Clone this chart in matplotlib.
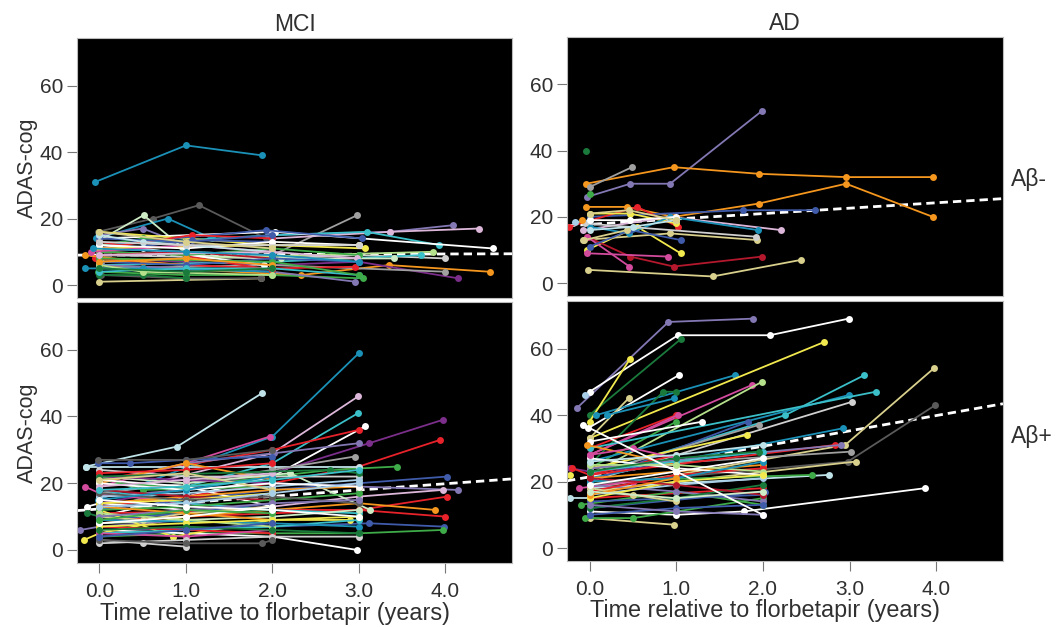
import matplotlib
matplotlib.use("Agg")
import matplotlib.pyplot as plt

plt.rcParams['font.family'] = ['Liberation Sans', 'DejaVu Sans']

# ---------------- palette ----------------
pal = {
    'teal': '#1B91B8', 'orange': '#F5961E', 'lav': '#8478B4', 'gray': '#A0A0A0',
    'dkgreen': '#1A7A3C', 'red': '#E8222A', 'dkred': '#B3182D', 'pink': '#D24B9D',
    'yellow': '#F2E94E', 'khaki': '#D8D08C', 'white': '#FFFFFF', 'ltblue': '#A9CFE8',
    'cyan': '#3BBFC8', 'green': '#3EAA48', 'ltgreen': '#B5E08C', 'purple': '#7B2E8A',
    'blue': '#3F5BAA', 'ltpink': '#DDB7DA', 'dkgray': '#5A5A5A', 'ltcyan': '#BFE3E8',
    'mint': '#CDEBC5', 'ltgray': '#D0D0D0',
}

# ---------------- MCI, Abeta- ----------------
mci_neg_t = [
    [-0.05, 1.0, 1.88], [-0.02, 0.62, 1.15, 1.93], [-0.04, 0.79, 1.3], [0.0, 0.51, 0.95],
    [0.0, 0.5, 1.0], [0.02, 2.0, 2.98], [1.95, 3.36, 4.09], [2.0, 3.36, 4.39],
    [0.0, 2.0, 3.09, 3.93], [0.0, 2.03, 4.55], [0.0, 2.33, 3.35, 4.51], [0.0, 1.0, 2.0, 3.0, 4.15],
    [0.0, 2.0, 4.0], [0.0, 2.0, 3.0, 4.0], [0.0, 1.0, 3.86], [0.0, 2.0, 3.72],
    [0.0, 2.1, 3.4], [0.0, 1.0, 2.0, 3.07], [-0.02, 1.0, 2.0, 3.05], [0.0, 1.0, 2.0, 2.96],
    [-0.05, 1.0, 2.0, 2.96], [0.0, 1.92, 3.04], [-0.17, 0.5, 1.0], [-0.17, 0.5, 2.0],
    [0.0, 1.87], [0.02, 1.0, 1.87], [0.0, 0.5, 1.0], [0.0, 0.5, 1.0],
    [0.0, 1.07, 2.0], [0.0, 1.07, 2.0], [0.0, 2.0], [0.0, 0.5, 1.9],
    [0.0, 1.0, 2.0], [0.0, 1.0, 2.0, 3.0], [0.0, 1.0, 2.0], [0.0, 1.0, 2.0, 3.0],
    [0.0, 2.0, 3.0], [0.0, 1.0, 2.0], [0.0, 1.0, 2.0, 3.0], [0.0, 0.5, 2.0],
    [-0.1, 1.0, 2.0], [0.0, 1.0, 2.0, 3.0], [0.0, 0.5, 1.0, 2.0], [0.0, 2.0, 3.0],
    [0.0, 1.0, 2.0], [0.0, 1.0, 3.0], [0.0, 2.0, 2.98], [0.0, 1.0, 2.0],
    [-0.08, 1.0, 2.0, 3.0], [0.0, 1.0, 2.0],
]
mci_neg_y = [
    [31, 42, 39], [16, 20, 24, 14], [14, 20, 14], [13.5, 21, 11.5],
    [15, 17, 12], [7, 9, 21], [15, 16, 18], [14, 16, 17],
    [12, 15, 16, 12], [14, 16, 11], [6, 3, 6, 4], [8, 7, 6, 7, 2],
    [5, 6, 4], [9, 8, 9, 8], [7, 8, 10], [6, 7, 9],
    [10, 8, 8], [16, 14, 12, 11], [4, 3, 3, 2], [6, 5, 4, 1],
    [8, 6, 5, 5.5], [12, 16.5, 14], [9, 7, 6], [5, 5, 4],
    [1, 2], [3, 2, 2], [12, 14, 13], [3, 3, 2],
    [11, 15, 14], [10, 13.5, 13], [13, 4.5], [12, 11, 6],
    [11, 10, 9], [10, 9, 11, 9], [9, 10, 8], [7, 6, 8, 7],
    [11, 12, 12], [14, 13, 15], [4, 5, 5, 3], [6, 4, 3],
    [10, 12, 10], [12, 11, 13, 12], [15, 13, 12, 10], [8, 7, 3],
    [7, 8, 6], [13, 12, 12], [9, 10, 8], [5, 4, 5],
    [11, 10, 9, 7], [16, 13, 11],
]
mci_neg_c = [
    'teal', 'dkgray', 'teal', 'mint', 'lav', 'gray', 'lav', 'ltpink',
    'cyan', 'white', 'orange', 'purple', 'gray', 'ltgray', 'ltgreen', 'cyan',
    'mint', 'yellow', 'green', 'lav', 'red', 'blue', 'orange', 'teal',
    'khaki', 'dkgray', 'green', 'dkgreen', 'red', 'blue', 'red', 'white',
    'ltblue', 'green', 'dkred', 'blue', 'yellow', 'blue', 'cyan', 'ltgreen',
    'pink', 'white', 'ltcyan', 'green', 'orange', 'ltgray', 'ltpink', 'dkgreen',
    'teal', 'khaki',
]
mci_neg_trend = [9.0, 9.4]

# ---------------- AD, Abeta- ----------------
ad_neg_t = [
    [-0.03, 0.47, 0.93, 1.99], [-0.04, 0.97, 1.95, 2.96, 3.96], [-0.04, 0.43, 0.97, 1.95, 2.96, 3.96],
    [0.0, 0.49], [-0.04], [0.0], [0.0, 1.77, 2.6], [-0.24, 0.55, 1.02],
    [0.0, 0.47, 1.0], [-0.03, 0.55, 1.05], [-0.08, 0.93, 1.93], [-0.02, 1.42, 2.44],
    [-0.03, 0.47, 0.97, 1.99], [-0.03, 0.91], [-0.03, 0.46], [-0.07, 0.93, 2.21],
    [0.0, 0.46, 0.93, 1.94], [-0.05, 1.92], [0.0, 0.47, 1.05], [-0.17, 0.0],
    [-0.09], [-0.06, 0.43], [0.0, 0.47, 1.0], [0.0, 0.5, 1.0], [0.0, 0.45, 1.0],
]
ad_neg_y = [
    [26, 30, 30, 52], [30, 35, 33, 32, 32], [23, 23, 20, 24, 30, 20],
    [29, 35], [40], [27], [20, 22, 22], [17, 23, 17],
    [21, 21, 18], [10, 17, 9], [13, 15, 13], [4, 2, 7],
    [14, 8, 5, 8], [9, 8], [14, 5], [16, 20, 16],
    [17, 15, 20, 16], [18, 14], [11, 16, 13], [18.3, 19],
    [19], [13, 16], [19, 19, 20], [16, 17, 19], [21, 22, 19],
]
ad_neg_c = [
    'lav', 'orange', 'orange', 'gray', 'dkgreen', 'green', 'blue', 'red',
    'yellow', 'yellow', 'khaki', 'khaki', 'dkred', 'pink', 'pink', 'ltpink',
    'teal', 'ltgray', 'blue', 'ltblue', 'orange', 'khaki', 'white', 'ltcyan', 'khaki',
]
ad_neg_trend = [17.3, 25.5]

# ---------------- MCI, Abeta+ ----------------
mci_pos_t = [
    [-0.16, 0.9, 1.88], [-0.02, 2.0, 3.0], [0.0, 2.0, 2.99], [0.0, 2.0, 2.99],
    [0.0, 2.0, 3.07], [0.0, 2.0, 3.0], [0.0, 2.0, 3.12, 3.97], [0.0, 1.0, 2.0, 3.0, 3.94],
    [0.0, 1.0, 2.67, 3.44], [-0.16, 1.0, 2.0, 3.0], [0.0, 2.0, 3.0, 4.02], [0.0, 2.0, 3.0, 4.14],
    [0.0, 2.0, 3.0, 3.97], [0.0, 2.0, 3.0, 4.02], [0.0, 1.0, 2.0, 3.0, 3.88], [0.0, 2.0, 3.0, 4.0],
    [0.0, 2.0, 3.12, 3.98], [0.0, 1.0, 2.0, 3.0, 3.97], [0.0, 1.0, 2.0, 2.98], [0.0, 1.0, 2.0, 2.95],
    [0.0, 1.0, 1.97], [0.0, 1.0, 2.02, 3.0], [0.0, 0.5, 1.0], [-0.18, 0.0, 1.0],
    [-0.17, 0.0, 1.0, 2.0], [-0.22, 0.0, 1.0], [-0.02, 0.35, 1.0, 2.0], [-0.02, 1.0, 2.0],
    [-0.14, 0.0, 1.0], [-0.14, 0.0, 1.0, 2.0], [0.0, 1.0, 2.0, 3.0], [0.0, 0.5, 2.0],
    [0.0, 1.0, 2.0], [0.0, 1.0, 2.0, 3.0], [0.0, 0.85, 2.0, 2.9], [0.0, 1.0, 2.0],
    [0.0, 1.0, 2.2, 3.13], [0.0, 1.0, 2.0, 3.0], [0.0, 1.0, 2.0], [0.0, 1.0, 2.0, 3.0],
    [0.0, 1.0, 2.0], [0.0, 1.0, 2.0, 3.0], [0.0, 1.0, 2.0], [0.0, 0.5, 1.0, 2.0],
    [0.0, 1.0, 2.0, 3.0], [0.0, 1.0, 2.0], [0.0, 1.0, 2.0, 3.0], [0.0, 1.0, 2.0],
    [0.0, 1.0, 2.0, 3.0], [0.0, 2.0, 3.0], [0.0, 1.0, 2.0], [0.0, 1.0, 2.0, 3.0],
    [0.0, 1.0, 2.0], [0.0, 1.0, 2.0], [0.0, 1.0, 2.0, 3.0], [0.0, 1.0, 2.0],
    [0.0, 1.0, 2.0, 3.0], [0.0, 1.0, 2.0], [0.0, 1.0, 2.0, 3.0], [0.0, 1.0, 2.0],
    [0.0, 1.0, 1.88, 2.0], [0.0, 2.66, 3.0], [0.0, 1.0, 2.0], [0.0, 1.0, 2.0, 3.0],
    [0.0, 1.0, 2.0], [0.0, 1.0, 2.0, 3.0], [0.0, 1.0, 2.0], [0.0, 1.0, 2.0, 3.0],
    [0.0, 1.0, 2.0], [0.0, 1.0, 2.0, 3.0],
]
mci_pos_y = [
    [25, 31, 47], [15, 34, 59], [16, 29, 46], [12, 26, 41],
    [10, 22, 37], [21, 30, 36], [14, 23, 32, 39], [13, 16, 20, 25, 33],
    [20, 19, 24, 25], [25, 25, 25, 25], [12, 18, 20, 22], [16, 20, 19, 18],
    [10, 13, 16, 18], [9, 11, 12, 16], [8, 10, 12, 14, 12], [11, 12, 12, 10],
    [6, 7, 8, 7], [4, 5, 5, 5, 6], [6, 5, 4, 0], [17, 20, 24, 28],
    [19, 26, 34], [20, 26, 29, 32], [3, 2, 1], [3, 5, 10],
    [19, 17, 14, 12], [6, 7, 9], [26, 26, 27, 28], [27, 27, 30],
    [13, 14, 12], [11, 10, 11, 12], [24, 22, 22, 22], [22, 18, 19],
    [20, 26, 21], [18, 14, 12, 11], [12, 4, 9, 9], [21, 19, 13],
    [22, 20, 23, 12], [5, 6, 7, 9], [9, 11, 14], [14, 16, 18, 19],
    [7, 6, 5], [16, 17, 19, 21], [22, 21, 20], [10, 9, 11, 13],
    [8, 9, 10, 12], [18, 16, 15], [12, 13, 15, 17], [14, 15, 17],
    [20, 18, 20, 19], [9, 8, 7], [5, 4, 6], [17, 15, 16, 14],
    [11, 9, 7], [23, 24, 26], [10, 12, 14, 15], [13, 11, 9],
    [7, 8, 9, 10], [15, 18, 22], [2, 3, 4, 4], [19, 21, 23],
    [3, 2, 2, 3], [22, 24, 23], [8, 10, 13], [6, 7, 6, 5],
    [21, 23, 18], [13, 14, 17, 20], [4, 6, 8], [18, 19, 21, 24],
    [9, 12, 11], [15, 13, 12, 10],
]
mci_pos_c = [
    'ltcyan', 'teal', 'ltpink', 'cyan', 'white', 'red', 'purple', 'red',
    'green', 'ltcyan', 'blue', 'lav', 'ltpink', 'red', 'orange', 'red',
    'blue', 'green', 'white', 'gray', 'pink', 'lav', 'ltgray', 'yellow',
    'pink', 'lav', 'blue', 'dkgray', 'white', 'dkgreen', 'ltgray', 'green',
    'orange', 'cyan', 'yellow', 'white', 'mint', 'cyan', 'blue', 'orange',
    'red', 'ltblue', 'purple', 'khaki', 'mint', 'dkred', 'green', 'yellow',
    'white', 'teal', 'pink', 'dkgray', 'ltgreen', 'red', 'lav', 'orange',
    'yellow', 'teal', 'ltgray', 'ltpink', 'dkgray', 'dkgreen', 'white', 'dkgreen',
    'khaki', 'ltblue', 'blue', 'cyan', 'green', 'white',
]
mci_pos_trend = [11.8, 21.3]

# ---------------- AD, Abeta+ ----------------
ad_pos_t = [
    [-0.15, 0.91, 1.89], [0.0, 1.02, 2.08, 2.99], [0.0, 1.06], [0.0, 0.47],
    [-0.05], [-0.02, 1.03], [0.08, 1.68], [0.0, 2.71],
    [0.0, 0.45], [0.0, 0.85, 1.0], [0.2, 0.98], [0.0, 1.87],
    [0.0, 1.99], [0.0, 1.0], [0.0, 1.02], [0.0, 1.0],
    [0.0, 2.26, 3.17], [0.0, 2.99], [0.0, 3.3], [0.0, 3.03],
    [0.0, 2.92], [0.0, 1.0, 2.95, 3.97], [0.0, 2.98, 3.99], [0.0, 3.02],
    [0.0, 3.07], [0.0, 2.76], [0.0, 2.57], [0.0, 1.0, 1.78, 3.87],
    [0.0, 0.98], [0.0, 2.0], [0.0, 2.02], [0.0, 1.83],
    [0.0, 1.95], [0.0, 1.82], [0.0, 1.3], [-0.03, 1.0],
    [-0.22, 0.0, 1.0], [-0.2, 0.0, 1.0], [-0.22], [-0.22, 0.0],
    [-0.1, 1.0, 2.0], [-0.05, 0.5, 2.0], [-0.12, 0.5], [0.0, 2.83],
    [0.0, 2.9], [0.0, 1.0, 2.0], [0.0, 1.0, 2.0], [0.0, 1.0, 2.0],
    [0.0, 1.0, 2.0], [0.0, 1.0, 2.0], [0.0, 1.0, 2.0], [0.0, 0.5, 1.0],
    [0.0, 1.0, 2.0], [0.0, 1.0, 2.0], [0.0, 1.0, 2.0], [0.0, 1.0, 2.0],
    [0.0, 0.5, 1.0], [0.0, 1.0, 2.0], [0.0, 1.0, 2.0], [0.0, 1.0, 2.0],
    [0.0, 1.0, 2.0], [0.0, 1.0, 2.0], [0.0, 1.0, 1.96], [0.0, 1.0, 2.0],
    [0.0, 1.0], [0.0, 1.0, 2.0], [-0.07, 2.0],
]
ad_pos_y = [
    [42, 68, 69], [47, 64, 64, 69], [40, 63], [38, 57],
    [46], [36, 52], [40, 52], [33, 62],
    [33, 45], [25, 47, 47], [40, 45], [28, 49],
    [22, 50], [30, 40], [28, 40], [24, 38],
    [22, 40, 52], [26, 46], [30, 47], [20, 44],
    [21, 36], [18, 22, 31, 54], [19, 26, 43], [24, 29],
    [17, 26], [18, 22], [20, 22], [11, 10, 11, 18],
    [9, 7], [15, 18], [12, 17], [20, 38],
    [22, 37], [24, 34], [32, 38], [31, 25],
    [24, 23, 25], [24, 22, 28], [22], [15, 15],
    [13, 17, 13], [9, 9, 15], [18, 20], [22, 31],
    [24, 31], [21, 23, 25], [16, 19, 21], [27, 24, 22],
    [19, 17, 14], [23, 26, 29], [14, 15, 16], [28, 30, 27],
    [17, 22, 24], [25, 25, 23], [12, 15, 19], [20, 21, 26],
    [18, 16, 14], [10, 12, 13], [26, 28, 31], [15, 20, 22],
    [21, 19, 16], [13, 11, 10], [23, 27, 29], [19, 23, 27],
    [16, 21], [17, 15, 17], [37, 10],
]
ad_pos_c = [
    'lav', 'white', 'dkgreen', 'yellow', 'ltblue', 'white', 'teal', 'yellow',
    'khaki', 'dkgreen', 'teal', 'pink', 'ltgreen', 'red', 'pink', 'green',
    'cyan', 'teal', 'cyan', 'ltgray', 'teal', 'khaki', 'dkgray', 'gray',
    'khaki', 'ltcyan', 'green', 'white', 'khaki', 'red', 'blue', 'blue',
    'gray', 'yellow', 'white', 'orange', 'purple', 'red', 'yellow', 'ltcyan',
    'green', 'green', 'pink', 'red', 'lav', 'orange', 'ltblue', 'white',
    'lav', 'cyan', 'blue', 'pink', 'red', 'ltgreen', 'dkgreen', 'teal',
    'khaki', 'blue', 'ltcyan', 'yellow', 'dkred', 'lav', 'dkgreen', 'white',
    'orange', 'mint', 'white',
]
ad_pos_trend = [20.2, 43.4]

col_titles = ['MCI', 'AD']
row_titles = ['A\u03b2-', 'A\u03b2+']
x_ticks = [0.0, 1.0, 2.0, 3.0, 4.0]
x_ticklabels = ['0.0', '1.0', '2.0', '3.0', '4.0']
y_ticks = [0, 20, 40, 60]
xlim = (-0.26, 4.77)
ylim = (-3.9, 74.3)

W, H = 1059, 627
fig = plt.figure(figsize=(W / 100, H / 100), dpi=100)

def px_axes(x0, y0, x1, y1):
    return fig.add_axes([x0 / W, 1 - y1 / H, (x1 - x0) / W, (y1 - y0) / H])

axes = [
    [px_axes(77, 38, 512, 298), px_axes(567, 37, 1003, 296)],
    [px_axes(77, 302, 512, 563), px_axes(567, 301, 1003, 561)],
]

panels = [
    [(mci_neg_t, mci_neg_y, mci_neg_c, mci_neg_trend), (ad_neg_t, ad_neg_y, ad_neg_c, ad_neg_trend)],
    [(mci_pos_t, mci_pos_y, mci_pos_c, mci_pos_trend), (ad_pos_t, ad_pos_y, ad_pos_c, ad_pos_trend)],
]

tc = '#303030'
label_frac = (2.03 - xlim[0]) / (xlim[1] - xlim[0])
for r in range(2):
    for c in range(2):
        ax = axes[r][c]
        ts, ys, cs, trend = panels[r][c]
        ax.set_facecolor('black')
        ax.plot(list(xlim), trend, color='white', lw=2.0, ls=(0, (3.0, 1.8)), zorder=1)
        for t, y, cc in zip(ts, ys, cs):
            ax.plot(t, y, '-o', color=pal[cc], lw=1.3, ms=5.0, mew=0, zorder=2)
        ax.set_xlim(*xlim)
        ax.set_ylim(*ylim)
        ax.set_yticks(y_ticks)
        ax.set_yticklabels([str(v) for v in y_ticks], fontsize=15, color=tc)
        ax.tick_params(axis='y', length=7, width=0.8, color='#777777', pad=3)
        if r == 1:
            ax.set_xticks(x_ticks)
            ax.set_xticklabels(x_ticklabels, fontsize=15, color=tc)
            ax.tick_params(axis='x', length=7, width=0.8, color='#777777', pad=7)
            ax.set_xlabel('Time relative to florbetapir (years)', fontsize=16.8, color=tc)
            ax.xaxis.set_label_coords(label_frac, -0.148)
        else:
            ax.set_xticks([])
            ax.set_title(col_titles[c], fontsize=16.5, color=tc, pad=5)
        if c == 0:
            ax.set_ylabel('ADAS-cog', fontsize=15.5, color=tc, labelpad=1)
        for s in ax.spines.values():
            s.set_color('#BBBBBB')
            s.set_linewidth(0.8)

fig.text(1011 / W, 1 - 180 / H, row_titles[0], fontsize=16.5, color=tc, va='center', ha='left')
fig.text(1011 / W, 1 - 437 / H, row_titles[1], fontsize=16.5, color=tc, va='center', ha='left')

fig.savefig('out.png', dpi=100, facecolor='white')
